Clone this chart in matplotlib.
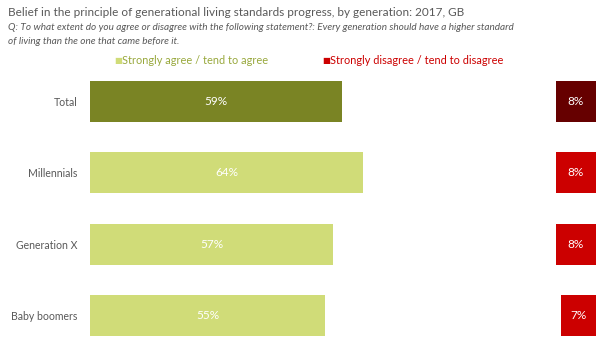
import matplotlib
matplotlib.use('Agg')
import matplotlib.pyplot as plt

# data
groups = ['Total', 'Millennials', 'Generation X', 'Baby boomers']
agree = [59, 64, 57, 55]
disagree = [8, 8, 8, 7]
agree_colors = ['#7A8424', '#D0DC78', '#D0DC78', '#D0DC78']
disagree_colors = ['#660000', '#CC0000', '#CC0000', '#CC0000']

plt.rcParams['font.family'] = ['Lato', 'DejaVu Sans']

W, H = 602, 351
fig = plt.figure(figsize=(W / 100, H / 100), dpi=100)

# main axis: agree bars
ax = fig.add_axes([90 / W, 0.0, 427 / W, 0.8124])
ypos = list(range(len(groups)))
ax.barh(ypos, agree, height=0.575, color=agree_colors)
ax.set_xlim(0, 100)
ax.set_ylim(3.5, -0.5)
for y, v in zip(ypos, agree):
    ax.text(v / 2, y, f'{v}%', color='white', ha='center', va='center', fontsize=8.5)
ax.set_yticks(ypos)
ax.set_yticklabels(groups, fontsize=7.6, color='#595959')
ax.tick_params(axis='y', length=0, pad=9)
ax.set_xticks([])
for s in ax.spines.values():
    s.set_visible(False)

# right axis: disagree bars, anchored at the right edge
ax2 = fig.add_axes([500 / W, 0.0, 96 / W, 0.8124])
ax2.barh(ypos, disagree, height=0.575, color=disagree_colors)
ax2.set_xlim(19.2, 0)
ax2.set_ylim(3.5, -0.5)
for y, v in zip(ypos, disagree):
    ax2.text(v / 2, y, f'{v}%', color='white', ha='center', va='center', fontsize=8.5)
ax2.axis('off')

# titles
fig.text(8 / W, 1 - 13 / H, 'Belief in the principle of generational living standards progress, by generation: 2017, GB',
         fontsize=8.5, color='#595959', va='center')
fig.text(8 / W, 1 - 27 / H, 'Q: To what extent do you agree or disagree with the following statement?: '
         'Every generation should have a higher standard',
         fontsize=7.2, style='italic', color='#595959', va='center')
fig.text(8 / W, 1 - 41 / H, 'of living than the one that came before it.',
         fontsize=7.2, style='italic', color='#595959', va='center')

# legend
fig.text(114 / W, 1 - 60 / H, '\u25A0', fontsize=6, color='#D0DC78', va='center')
fig.text(122 / W, 1 - 60 / H, 'Strongly agree / tend to agree', fontsize=7.9, color='#98A83C', va='center')
fig.text(322 / W, 1 - 60 / H, '\u25A0', fontsize=6, color='#CC0000', va='center')
fig.text(330 / W, 1 - 60 / H, 'Strongly disagree / tend to disagree', fontsize=7.9, color='#CC0000', va='center')

fig.savefig('out.png', dpi=100)
